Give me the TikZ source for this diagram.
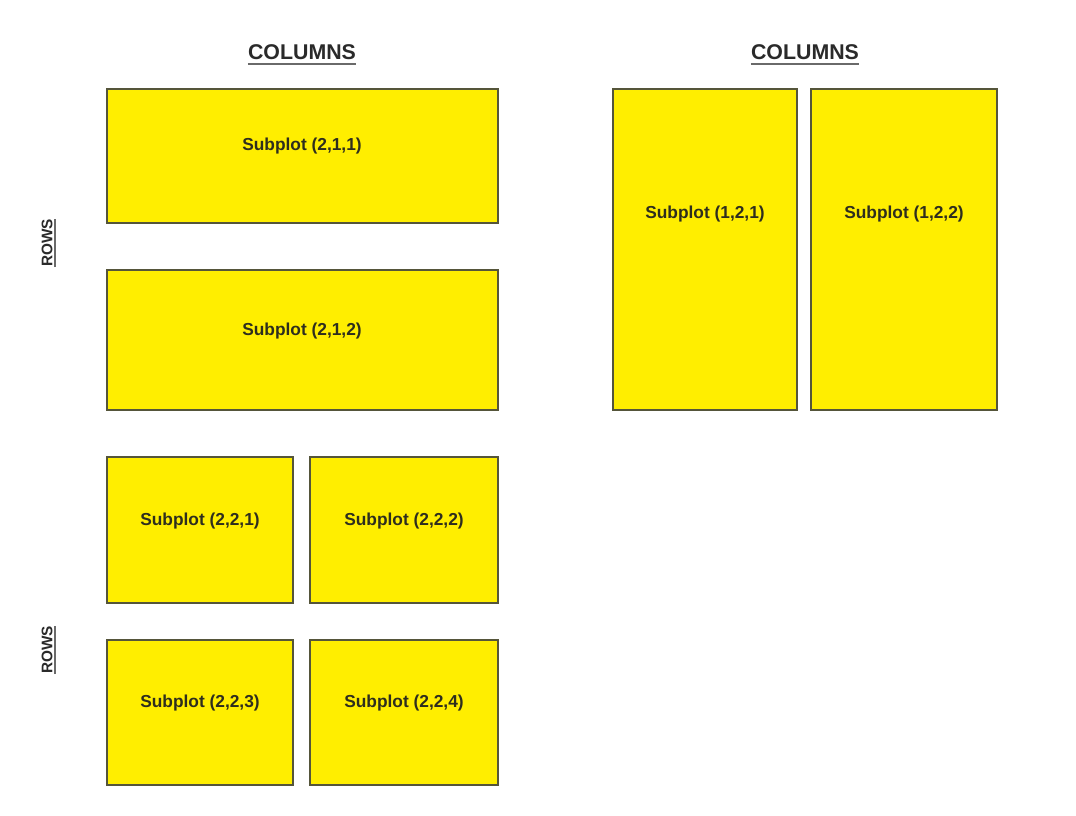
\documentclass[tikz,border=0pt]{standalone}
\usepackage{fontspec}
\setmainfont{Liberation Sans}
\definecolor{plotyellow}{HTML}{FFEE00}
\definecolor{plotedge}{HTML}{55553A}
\definecolor{labeltext}{HTML}{2E2E1E}
\definecolor{headtext}{HTML}{2A2A2A}
\definecolor{ruleline}{HTML}{6A6A6A}
\begin{document}
\begin{tikzpicture}[x=0.75pt,y=-0.75pt,
  plotbox/.style={draw=plotedge,fill=plotyellow,line width=1.1pt},
  plotlabel/.style={font=\fontsize{13}{15}\selectfont\bfseries,text=labeltext,inner sep=0pt},
  header/.style={font=\fontsize{16}{19}\selectfont\bfseries,text=headtext,inner sep=0pt},
  sidelabel/.style={font=\fontsize{11.5}{14}\selectfont\bfseries,text=headtext,inner sep=0pt,rotate=90},
  underrule/.style={draw=ruleline,line width=1.8pt}]
\path[use as bounding box,fill=white] (0,0) rectangle (1076,816);

% two rows, one column
\draw[plotbox] (107,89) rectangle (498,223);
\node[plotlabel] (s211) at (302,146) {Subplot (2,1,1)};
\draw[plotbox] (107,270) rectangle (498,410);
\node[plotlabel] (s212) at (302,331) {Subplot (2,1,2)};

% one row, two columns
\draw[plotbox] (613,89) rectangle (797,410);
\node[plotlabel] (s121) at (705,214) {Subplot (1,2,1)};
\draw[plotbox] (811,89) rectangle (997,410);
\node[plotlabel] (s122) at (904,214) {Subplot (1,2,2)};

% two rows, two columns
\draw[plotbox] (107,457) rectangle (293,603);
\node[plotlabel] (s221) at (200,521) {Subplot (2,2,1)};
\draw[plotbox] (310,457) rectangle (498,603);
\node[plotlabel] (s222) at (404,521) {Subplot (2,2,2)};
\draw[plotbox] (107,640) rectangle (293,785);
\node[plotlabel] (s223) at (200,703) {Subplot (2,2,3)};
\draw[plotbox] (310,640) rectangle (498,785);
\node[plotlabel] (s224) at (404,703) {Subplot (2,2,4)};

% headers, underlined
\node[header] (colA) at (302,52) {COLUMNS};
\node[header] (colB) at (805,52) {COLUMNS};
\draw[underrule] ([yshift=-3pt]colA.south west) -- ([yshift=-3pt]colA.south east);
\draw[underrule] ([yshift=-3pt]colB.south west) -- ([yshift=-3pt]colB.south east);

% side labels, underlined along their reading direction
\node[sidelabel] (rowA) at (47,243) {ROWS};
\node[sidelabel] (rowB) at (47,650) {ROWS};
\draw[underrule,line width=1.3pt] ([xshift=2pt]rowA.south west) -- ([xshift=2pt]rowA.south east);
\draw[underrule,line width=1.3pt] ([xshift=2pt]rowB.south west) -- ([xshift=2pt]rowB.south east);
\end{tikzpicture}
\end{document}
